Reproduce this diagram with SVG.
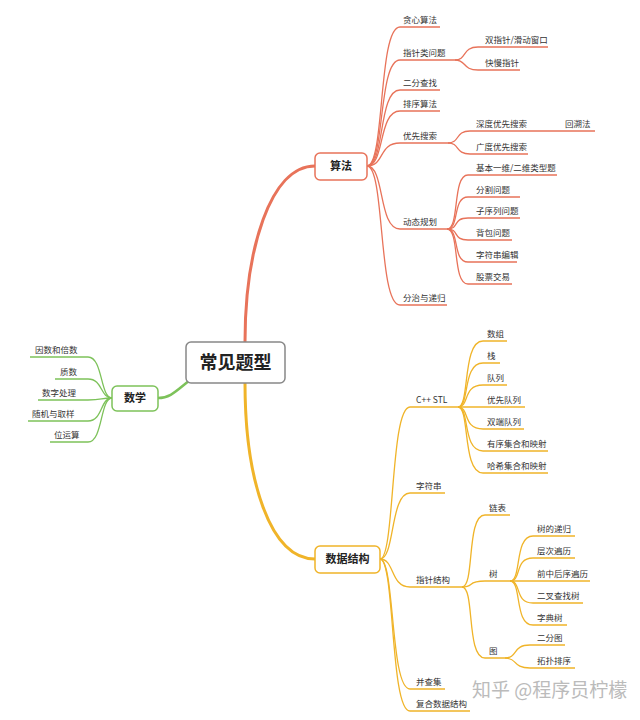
<svg xmlns="http://www.w3.org/2000/svg" width="640" height="720" viewBox="0 0 640 720">
<style>
text{font-family:"Noto Sans CJK SC","Liberation Sans",sans-serif;font-size:8.5px;fill:#333}
.r{fill:none;stroke:#e8735a;stroke-width:1.3}
.o{fill:none;stroke:#f0b429;stroke-width:1.3}
.g{fill:none;stroke:#7dc25a;stroke-width:1.3}
.box{fill:#fff;stroke-width:1.5}
.b{font-weight:bold;font-size:11px;fill:#222}
</style>
<rect width="640" height="720" fill="#fff"/>
<g id="connectors">
<path d="M245 342 C245 250 270 166 315 166" fill="none" stroke="#e8735a" stroke-width="3"/>
<path d="M245 383 C245 480 270 559 315 559" fill="none" stroke="#f0b429" stroke-width="3"/>
<path d="M190 380 C175 392 170 398 158 398" fill="none" stroke="#7dc25a" stroke-width="2.5"/>
<g class="r">
<path d="M367 166 C385 166 378 27 400 27 H440"/>
<path d="M367 166 C385 166 378 60 400 60 H455"/>
<path d="M367 166 C385 166 378 90 400 90 H440"/>
<path d="M367 166 C385 166 378 111 400 111 H440"/>
<path d="M367 166 C385 166 378 143 400 143 H448"/>
<path d="M367 166 C385 166 378 229 400 229 H447"/>
<path d="M367 166 C385 166 378 305 400 305 H447"/>
<path d="M455 60 C467 60 462 47 478 47 H548"/>
<path d="M455 60 C467 60 462 70 478 70 H520"/>
<path d="M448 143 C460 143 455 131 470 131 H595"/>
<path d="M448 143 C460 143 455 154 470 154 H528"/>
<path d="M447 229 C460 229 452 175 468 175 H557"/>
<path d="M447 229 C460 229 452 197 468 197 H520"/>
<path d="M447 229 C460 229 452 218 468 218 H520"/>
<path d="M447 229 C460 229 452 240 468 240 H512"/>
<path d="M447 229 C460 229 452 262 468 262 H517"/>
<path d="M447 229 C460 229 452 284 468 284 H512"/>
</g>
<g class="o">
<path d="M380 559 C395 559 390 407 410 407 H458"/>
<path d="M380 559 C395 559 390 493 410 493 H445"/>
<path d="M380 559 C395 559 390 587 410 587 H462"/>
<path d="M380 559 C395 559 390 689 410 689 H445"/>
<path d="M380 559 C395 559 390 711 410 711 H470"/>
<path d="M458 407 C470 407 462 341 483 341 H507"/>
<path d="M458 407 C470 407 462 363 483 363 H500"/>
<path d="M458 407 C470 407 462 385 483 385 H507"/>
<path d="M458 407 C470 407 462 407 483 407 H525"/>
<path d="M458 407 C470 407 462 429 483 429 H524"/>
<path d="M458 407 C470 407 462 451 483 451 H548"/>
<path d="M458 407 C470 407 462 473 483 473 H548"/>
<path d="M462 587 C475 587 466 515 485 515 H510"/>
<path d="M462 587 C475 587 466 581 485 581 H510"/>
<path d="M462 587 C475 587 466 658 485 658 H505"/>
<path d="M510 581 C522 581 514 536 533 536 H575"/>
<path d="M510 581 C522 581 514 558 533 558 H575"/>
<path d="M510 581 C522 581 514 581 533 581 H590"/>
<path d="M510 581 C522 581 514 603 533 603 H583"/>
<path d="M510 581 C522 581 514 625 533 625 H567"/>
<path d="M505 658 C518 658 512 645 530 645 H565"/>
<path d="M505 658 C518 658 512 668 530 668 H575"/>
</g>
<g class="g">
<path d="M112 398 C100 398 103 357 88 357 H30"/>
<path d="M112 398 C100 398 103 379 88 379 H55"/>
<path d="M112 398 C100 398 103 400 88 400 H38"/>
<path d="M112 398 C100 398 103 421 88 421 H28"/>
<path d="M112 398 C100 398 103 442 88 442 H50"/>
</g>
</g>
<g id="root"><rect class="box" x="186" y="342" width="99" height="41" rx="5" stroke="#888"/><text x="235.5" y="369" text-anchor="middle" style="font-size:18px;font-weight:bold;fill:#222">常见题型</text></g>
<g id="suanfa"><rect class="box" x="315" y="153" width="52" height="27" rx="5" stroke="#e8735a"/><text class="b" x="341" y="170" text-anchor="middle">算法</text></g>
<g id="shuju"><rect class="box" x="315" y="546" width="65" height="27" rx="5" stroke="#f0b429"/><text class="b" x="347.5" y="563" text-anchor="middle">数据结构</text></g>
<g id="shuxue"><rect class="box" x="112" y="386" width="46" height="25" rx="5" stroke="#7dc25a"/><text class="b" x="135" y="402" text-anchor="middle">数学</text></g>
<g id="labels">
<text x="403" y="23">贪心算法</text>
<text x="403" y="56">指针类问题</text>
<text x="485" y="43">双指针/滑动窗口</text>
<text x="485" y="66">快慢指针</text>
<text x="403" y="86">二分查找</text>
<text x="403" y="107">排序算法</text>
<text x="403" y="139">优先搜索</text>
<text x="476" y="127">深度优先搜索</text>
<text x="565" y="127">回溯法</text>
<text x="476" y="150">广度优先搜索</text>
<text x="403" y="225">动态规划</text>
<text x="476" y="171">基本一维/二维类型题</text>
<text x="476" y="193">分割问题</text>
<text x="476" y="214">子序列问题</text>
<text x="476" y="236">背包问题</text>
<text x="476" y="258">字符串编辑</text>
<text x="476" y="280">股票交易</text>
<text x="403" y="301">分治与递归</text>
<text x="416" y="403">C++ STL</text>
<text x="487" y="337">数组</text>
<text x="487" y="359">栈</text>
<text x="487" y="381">队列</text>
<text x="487" y="403">优先队列</text>
<text x="487" y="425">双端队列</text>
<text x="487" y="447">有序集合和映射</text>
<text x="487" y="469">哈希集合和映射</text>
<text x="416" y="489">字符串</text>
<text x="416" y="583">指针结构</text>
<text x="489" y="511">链表</text>
<text x="489" y="577">树</text>
<text x="537" y="532">树的递归</text>
<text x="537" y="554">层次遍历</text>
<text x="537" y="577">前中后序遍历</text>
<text x="537" y="599">二叉查找树</text>
<text x="537" y="621">字典树</text>
<text x="489" y="654">图</text>
<text x="537" y="641">二分图</text>
<text x="537" y="664">拓扑排序</text>
<text x="416" y="685">并查集</text>
<text x="416" y="707">复合数据结构</text>
<text x="35" y="353">因数和倍数</text>
<text x="60" y="375">质数</text>
<text x="42" y="396">数字处理</text>
<text x="32" y="417">随机与取样</text>
<text x="54" y="438">位运算</text>
</g>
<text x="472" y="697" style="font-size:19px;fill:#bbb">知乎 @程序员柠檬</text>
</svg>
